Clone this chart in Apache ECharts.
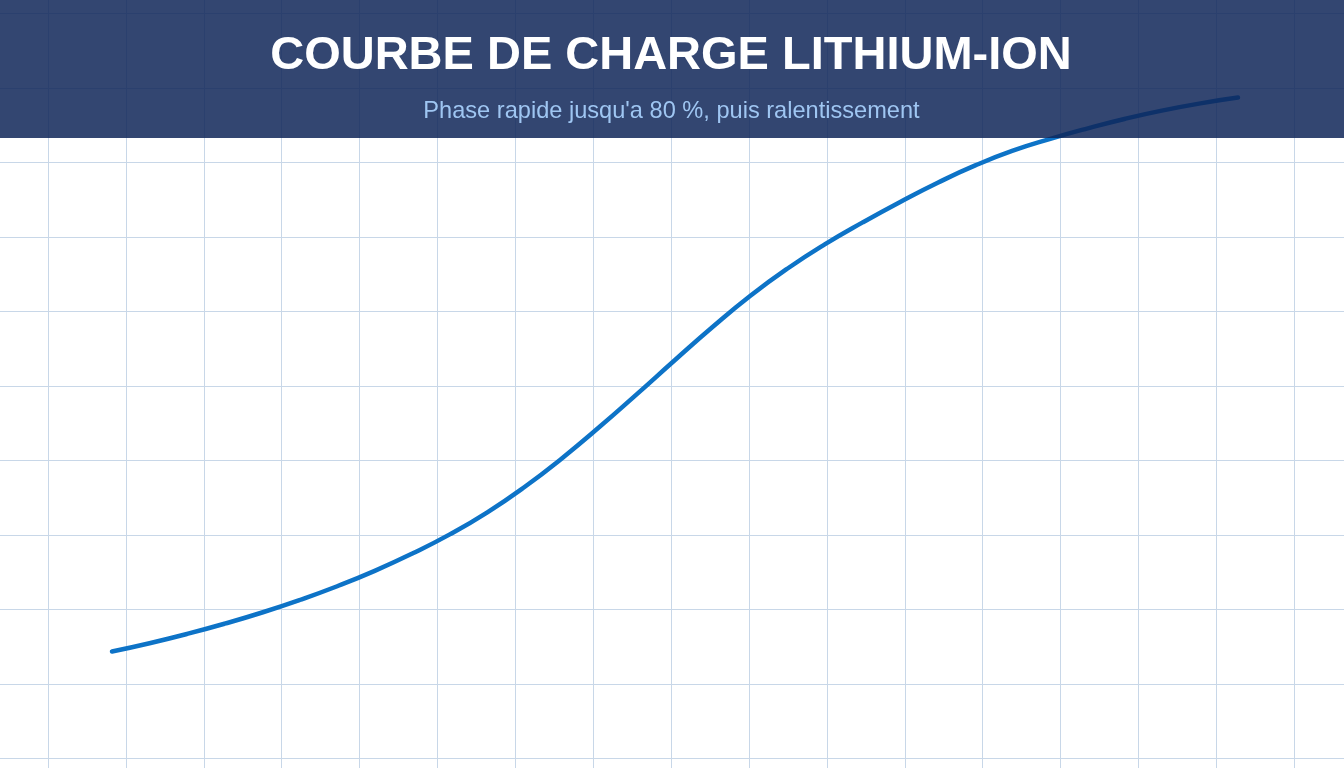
<!DOCTYPE html>
<html>
<head>
<meta charset="utf-8">
<script src="https://cdn.jsdelivr.net/npm/echarts@6/dist/echarts.min.js"></script>
<style>
html,body{margin:0;padding:0;background:#fff;}
#chart{width:1344px;height:768px;}
</style>
</head>
<body>
<div id="chart"></div>
<script>
// Data
var titleText = 'COURBE DE CHARGE LITHIUM-ION';
var subtitleText = "Phase rapide jusqu'a 80 %, puis ralentissement";
var timeMinutes = [0, 5, 10, 15, 20, 25, 30, 35, 40, 45, 50, 55, 60, 65, 70, 75,
                   80, 85, 90, 95, 100, 105, 110, 115, 120, 125, 130, 135, 140, 145, 150];
var chargePercent = [10.7, 12.0, 13.45, 15.05, 16.8, 18.75, 20.9, 23.3, 26.0, 29.0, 32.45, 36.45, 40.95, 45.85, 51.0, 56.25,
                     61.4, 66.25, 70.55, 74.35, 77.75, 80.95, 83.95, 86.65, 88.95, 90.8, 92.45, 93.95, 95.25, 96.35, 97.25];

var seriesData = timeMinutes.map(function (t, i) { return [t, chargePercent[i]]; });

var chart = echarts.init(document.getElementById('chart'));
var gridLine = { show: true, lineStyle: { color: '#c8d7e8', width: 1 } };
var hidden = { show: false };

chart.setOption({
  backgroundColor: '#ffffff',
  animation: false,
  grid: [
    // horizontal paper lines (span full width)
    { left: 0, right: 0, top: 13.5, bottom: 9.5 },
    // vertical paper lines (span full height)
    { left: 48, right: 49.8, top: 0, bottom: 0 },
    // data area
    { left: 112, right: 106, top: 80, bottom: 48 }
  ],
  xAxis: [
    { type: 'value', gridIndex: 0, min: 0, max: 1,
      axisLine: hidden, axisTick: hidden, axisLabel: hidden, splitLine: hidden },
    { type: 'value', gridIndex: 1, min: 0, max: 16, interval: 1,
      axisLine: hidden, axisTick: hidden, axisLabel: hidden, splitLine: gridLine },
    { type: 'value', gridIndex: 2, min: 0, max: 150,
      axisLine: hidden, axisTick: hidden, axisLabel: hidden, splitLine: hidden }
  ],
  yAxis: [
    { type: 'value', gridIndex: 0, min: 0, max: 10, interval: 1,
      axisLine: hidden, axisTick: hidden, axisLabel: hidden, splitLine: gridLine },
    { type: 'value', gridIndex: 1, min: 0, max: 1,
      axisLine: hidden, axisTick: hidden, axisLabel: hidden, splitLine: hidden },
    { type: 'value', gridIndex: 2, min: 0, max: 100,
      axisLine: hidden, axisTick: hidden, axisLabel: hidden, splitLine: hidden }
  ],
  series: [
    {
      type: 'line',
      xAxisIndex: 2,
      yAxisIndex: 2,
      data: seriesData,
      smooth: 0.5,
      showSymbol: false,
      lineStyle: { color: '#0d73c7', width: 4.5, cap: 'round' },
      z: 5
    }
  ],
  graphic: [
    {
      type: 'rect', z: 100,
      shape: { x: 0, y: 0, width: 1344, height: 138 },
      style: { fill: 'rgba(15,38,88,0.85)' }
    },
    {
      type: 'text', z: 110,
      x: 671, y: 56.5,
      style: {
        text: titleText,
        fill: '#ffffff',
        font: 'bold 47px "Liberation Sans", Arial, sans-serif',
        textAlign: 'center',
        textVerticalAlign: 'middle'
      }
    },
    {
      type: 'text', z: 110,
      x: 671.5, y: 111,
      style: {
        text: subtitleText,
        fill: '#9fc6f2',
        font: '23.6px "Liberation Sans", Arial, sans-serif',
        textAlign: 'center',
        textVerticalAlign: 'middle'
      }
    }
  ]
});
</script>
</body>
</html>
